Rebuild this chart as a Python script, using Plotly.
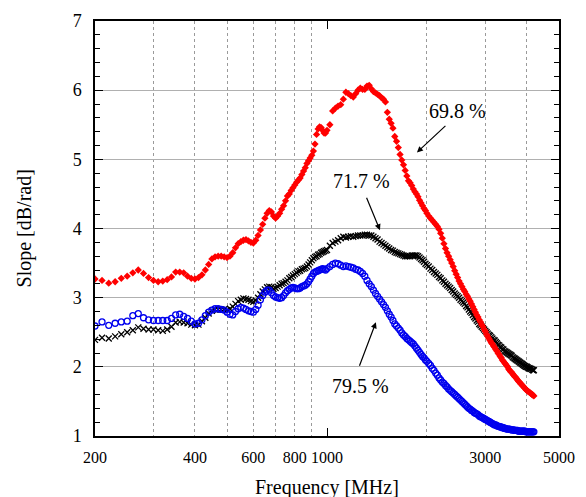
import math
import plotly.graph_objects as go

# ---------------- data ----------------
freq_lo = list(range(200, 1001, 10))     # MHz, 10 MHz steps
freq_mid = list(range(1020, 2001, 20))   # 20 MHz steps
freq_hi = list(range(2025, 4201, 25))    # 25 MHz steps
freq = freq_lo + freq_mid + freq_hi

red_lo = [3.27, 3.25, 3.21, 3.23, 3.28, 3.31, 3.36, 3.40, 3.35, 3.29,
          3.25, 3.23, 3.24, 3.26, 3.30, 3.37, 3.37, 3.36, 3.31, 3.28,
          3.27, 3.29, 3.33, 3.40, 3.48, 3.56, 3.59, 3.60, 3.60, 3.59,
          3.58, 3.60, 3.65, 3.72, 3.78, 3.81, 3.83, 3.84, 3.82, 3.80,
          3.79, 3.83, 3.90, 3.98, 4.06, 4.15, 4.22, 4.26, 4.24, 4.18,
          4.15, 4.18, 4.22, 4.28, 4.33, 4.40, 4.47, 4.50, 4.55, 4.59,
          4.63, 4.67, 4.70, 4.73, 4.78, 4.83, 4.88, 4.94, 4.98, 5.02,
          5.06, 5.12, 5.22, 5.36, 5.44, 5.47, 5.46, 5.42, 5.38, 5.38,
          5.42]
red_mid = [5.50, 5.70, 5.74, 5.77, 5.79, 5.87, 5.97, 5.95, 5.92, 5.90,
           5.95, 6.00, 6.03, 6.01, 6.01, 6.06, 6.07, 6.02, 5.98, 5.96,
           5.94, 5.92, 5.89, 5.87, 5.83, 5.68, 5.58, 5.52, 5.45, 5.33,
           5.26, 5.17, 5.07, 4.99, 4.92, 4.84, 4.76, 4.69, 4.66, 4.62,
           4.57, 4.53, 4.50, 4.46, 4.41, 4.37, 4.33, 4.29, 4.26, 4.22]
red_hi = [4.18, 4.15, 4.12, 4.09, 4.06, 4.03, 3.99, 3.93, 3.86, 3.78,
          3.71, 3.65, 3.60, 3.55, 3.50, 3.45, 3.39, 3.34, 3.29, 3.24,
          3.20, 3.16, 3.12, 3.09, 3.05, 3.02, 2.98, 2.95, 2.91, 2.87,
          2.83, 2.79, 2.75, 2.72, 2.68, 2.65, 2.61, 2.58, 2.54, 2.51,
          2.47, 2.44, 2.41, 2.38, 2.35, 2.33, 2.30, 2.28, 2.25, 2.23,
          2.20, 2.18, 2.15, 2.13, 2.10, 2.08, 2.06, 2.04, 2.02, 2.00,
          1.97, 1.95, 1.93, 1.92, 1.90, 1.88, 1.86, 1.85, 1.83, 1.81,
          1.79, 1.78, 1.76, 1.75, 1.73, 1.72, 1.70, 1.69, 1.67, 1.66,
          1.65, 1.64, 1.63, 1.62, 1.61, 1.60, 1.59, 1.58]

black_lo = [2.39, 2.42, 2.41, 2.44, 2.47, 2.50, 2.53, 2.57, 2.55, 2.54,
            2.54, 2.53, 2.52, 2.54, 2.58, 2.64, 2.65, 2.64, 2.63, 2.61,
            2.60, 2.61, 2.66, 2.71, 2.77, 2.81, 2.83, 2.83, 2.83, 2.83,
            2.82, 2.84, 2.87, 2.91, 2.95, 2.97, 2.99, 2.98, 2.97, 2.95,
            2.94, 2.96, 3.00, 3.05, 3.09, 3.12, 3.15, 3.16, 3.15, 3.13,
            3.14, 3.16, 3.18, 3.20, 3.21, 3.23, 3.25, 3.28, 3.30, 3.32,
            3.34, 3.36, 3.38, 3.39, 3.41, 3.42, 3.43, 3.45, 3.48, 3.51,
            3.54, 3.57, 3.59, 3.60, 3.62, 3.63, 3.65, 3.66, 3.67, 3.68,
            3.69]
black_mid = [3.75, 3.79, 3.81, 3.83, 3.86, 3.88, 3.87, 3.88, 3.89, 3.88,
             3.89, 3.90, 3.90, 3.90, 3.91, 3.91, 3.90, 3.90, 3.88, 3.86,
             3.84, 3.81, 3.79, 3.77, 3.75, 3.73, 3.71, 3.69, 3.68, 3.66,
             3.65, 3.64, 3.63, 3.62, 3.61, 3.60, 3.60, 3.60, 3.60, 3.61,
             3.61, 3.61, 3.61, 3.60, 3.58, 3.56, 3.54, 3.52, 3.49, 3.47]
black_hi = [3.45, 3.42, 3.40, 3.37, 3.35, 3.33, 3.30, 3.28, 3.25, 3.23,
            3.20, 3.18, 3.16, 3.14, 3.11, 3.09, 3.06, 3.04, 3.02, 3.00,
            2.97, 2.95, 2.93, 2.91, 2.88, 2.86, 2.83, 2.80, 2.78, 2.75,
            2.72, 2.70, 2.67, 2.65, 2.62, 2.60, 2.58, 2.56, 2.54, 2.52,
            2.50, 2.48, 2.46, 2.45, 2.43, 2.41, 2.39, 2.38, 2.36, 2.34,
            2.32, 2.31, 2.29, 2.28, 2.26, 2.25, 2.23, 2.22, 2.21, 2.20,
            2.19, 2.18, 2.17, 2.16, 2.14, 2.13, 2.12, 2.11, 2.10, 2.09,
            2.08, 2.07, 2.06, 2.05, 2.04, 2.03, 2.02, 2.01, 2.00, 2.00,
            1.99, 1.98, 1.98, 1.97, 1.97, 1.96, 1.95, 1.95]

blue_lo = [2.59, 2.65, 2.60, 2.63, 2.65, 2.66, 2.74, 2.77, 2.71, 2.68,
           2.67, 2.67, 2.67, 2.67, 2.70, 2.75, 2.76, 2.73, 2.70, 2.66,
           2.62, 2.63, 2.68, 2.74, 2.79, 2.82, 2.84, 2.84, 2.83, 2.82,
           2.79, 2.76, 2.75, 2.80, 2.84, 2.86, 2.85, 2.83, 2.81, 2.80,
           2.79, 2.83, 2.89, 2.97, 3.03, 3.08, 3.11, 3.11, 3.07, 3.03,
           3.01, 3.00, 2.99, 3.00, 3.03, 3.07, 3.10, 3.12, 3.14, 3.15,
           3.14, 3.13, 3.13, 3.14, 3.16, 3.17, 3.18, 3.20, 3.23, 3.27,
           3.31, 3.35, 3.37, 3.38, 3.39, 3.40, 3.41, 3.42, 3.41, 3.40,
           3.42]
blue_mid = [3.45, 3.48, 3.50, 3.49, 3.47, 3.45, 3.46, 3.45, 3.44, 3.43,
            3.41, 3.40, 3.38, 3.35, 3.31, 3.25, 3.20, 3.16, 3.11, 3.06,
            3.02, 2.98, 2.94, 2.90, 2.86, 2.81, 2.76, 2.72, 2.67, 2.62,
            2.59, 2.56, 2.53, 2.49, 2.46, 2.44, 2.41, 2.39, 2.37, 2.35,
            2.33, 2.30, 2.27, 2.24, 2.21, 2.18, 2.15, 2.13, 2.10, 2.08]
blue_hi = [2.05, 2.02, 1.98, 1.95, 1.91, 1.88, 1.84, 1.81, 1.78, 1.76,
           1.73, 1.71, 1.68, 1.66, 1.64, 1.62, 1.60, 1.58, 1.56, 1.54,
           1.52, 1.50, 1.48, 1.46, 1.44, 1.42, 1.40, 1.39, 1.37, 1.36,
           1.34, 1.33, 1.32, 1.31, 1.29, 1.28, 1.27, 1.26, 1.25, 1.24,
           1.23, 1.22, 1.21, 1.20, 1.19, 1.18, 1.17, 1.16, 1.16, 1.15,
           1.14, 1.14, 1.13, 1.13, 1.12, 1.12, 1.11, 1.11, 1.10, 1.10,
           1.10, 1.10, 1.09, 1.09, 1.09, 1.09, 1.08, 1.08, 1.08, 1.08,
           1.07, 1.07, 1.07, 1.07, 1.07, 1.07, 1.07, 1.07, 1.06, 1.06,
           1.06, 1.06, 1.06, 1.06, 1.06, 1.06, 1.06, 1.06]

slope_red = red_lo + red_mid + red_hi          # 69.8 %
slope_black = black_lo + black_mid + black_hi  # 71.7 %
slope_blue = blue_lo + blue_mid + blue_hi      # 79.5 %

x_tick_vals = [200, 400, 600, 800, 1000, 3000, 5000]
x_tick_text = ["200", "400", "600", "800", "1000", "3000", "5000"]
x_grid_vals = [300, 400, 500, 600, 700, 800, 900, 2000, 3000, 4000]
y_tick_vals = [1, 2, 3, 4, 5, 6, 7]

FONT = "Liberation Serif"

fig = go.Figure()
fig.add_trace(go.Scatter(
    x=freq, y=slope_black, mode="markers", name="71.7 %",
    marker=dict(symbol="x-thin-open", size=6, color="black",
                line=dict(color="black", width=1.3))))
fig.add_trace(go.Scatter(
    x=freq, y=slope_blue, mode="markers", name="79.5 %",
    marker=dict(symbol="circle-open", size=6, color="#0000ee",
                line=dict(color="#0000ee", width=1.3))))
fig.add_trace(go.Scatter(
    x=freq, y=slope_red, mode="markers", name="69.8 %",
    marker=dict(symbol="diamond", size=5.6, color="#ff0000",
                line=dict(width=0))))
# helper axis for the decade tick marks
fig.add_trace(go.Scatter(x=[], y=[], xaxis="x2", yaxis="y",
                         showlegend=False, hoverinfo="skip"))

xr = [math.log10(200), math.log10(5000)]

fig.update_layout(
    width=586, height=497,
    margin=dict(l=95, r=27, t=21, b=61),
    paper_bgcolor="white", plot_bgcolor="white",
    showlegend=False,
    font=dict(family=FONT, color="black"),
    xaxis=dict(
        type="log", range=xr,
        tickmode="array", tickvals=x_tick_vals, ticktext=x_tick_text,
        ticks="", showgrid=False, zeroline=False,
        showline=True, linecolor="black", linewidth=1.5, mirror=True,
        tickfont=dict(family=FONT, size=16, color="black"),
        ticklabelstandoff=6,
        minor=dict(tickmode="array", tickvals=x_grid_vals, showgrid=True,
                   gridcolor="#9a9a9a", griddash="dot", gridwidth=1,
                   ticks=""),
    ),
    xaxis2=dict(
        type="log", range=xr, overlaying="x", anchor="y", side="bottom",
        tickmode="array", tickvals=[1000], ticks="inside", ticklen=8,
        tickwidth=1.2, tickcolor="black", showticklabels=False,
        showgrid=False, zeroline=False, showline=False, mirror="ticks",
    ),
    yaxis=dict(
        range=[1, 7], tickmode="array", tickvals=y_tick_vals,
        ticks="inside", ticklen=8, tickwidth=1, tickcolor="black",
        showgrid=True, gridcolor="#b0b0b0", gridwidth=1.2, zeroline=False,
        showline=True, linecolor="black", linewidth=1.5, mirror="ticks",
        tickfont=dict(family=FONT, size=18, color="black"),
        ticklabelstandoff=8,
        minor=dict(dtick=0.2, tick0=1, ticks="inside", ticklen=5,
                   tickwidth=1, tickcolor="black", showgrid=False),
    ),
    annotations=[
        dict(text="Slope [dB/rad]", xref="paper", yref="paper",
             x=-0.151, y=0.5, textangle=-90, showarrow=False,
             xanchor="center", yanchor="middle",
             font=dict(family=FONT, size=20, color="black")),
        dict(text="Frequency [MHz]", xref="paper", yref="paper",
             x=0.5, y=-0.123, showarrow=False,
             xanchor="center", yanchor="middle",
             font=dict(family=FONT, size=20, color="black")),
        dict(text="69.8 %", x=math.log10(2480), y=5.70, xref="x", yref="y",
             showarrow=False, font=dict(family=FONT, size=20, color="black")),
        dict(text="71.7 %", x=math.log10(1274), y=4.685, xref="x", yref="y",
             showarrow=False, font=dict(family=FONT, size=20, color="black")),
        dict(text="79.5 %", x=math.log10(1265), y=1.718, xref="x", yref="y",
             showarrow=False, font=dict(family=FONT, size=20, color="black")),
        dict(text="", x=math.log10(1866), y=5.10, xref="x", yref="y",
             showarrow=True, ax=30, ay=-28, arrowhead=2, arrowsize=1,
             arrowwidth=1.2, arrowcolor="black"),
        dict(text="", x=math.log10(1444), y=3.975, xref="x", yref="y",
             showarrow=True, ax=-14, ay=-34, arrowhead=2, arrowsize=1,
             arrowwidth=1.2, arrowcolor="black"),
        dict(text="", x=math.log10(1404), y=2.644, xref="x", yref="y",
             showarrow=True, ax=-17, ay=45, arrowhead=2, arrowsize=1,
             arrowwidth=1.2, arrowcolor="black"),
    ],
)

fig.write_html("out.html",
               config={"displayModeBar": False},
               post_script="document.body.style.margin='0';"
                           "document.body.style.padding='0';")
